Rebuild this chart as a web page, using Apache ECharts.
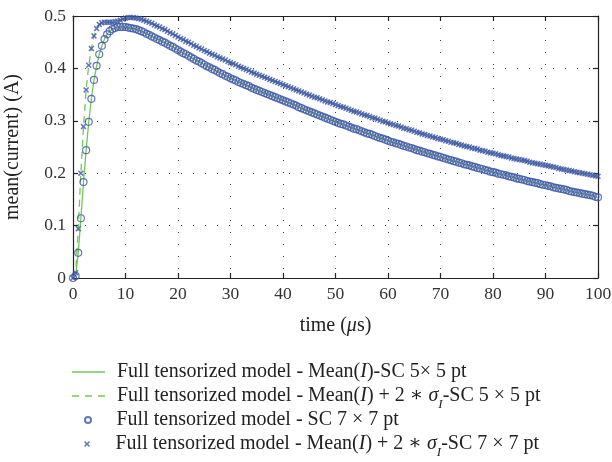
<!DOCTYPE html>
<html><head><meta charset="utf-8">
<script src="https://cdn.jsdelivr.net/npm/echarts@6/dist/echarts.min.js"></script>
<style>html,body{margin:0;padding:0;background:#fff}#c{width:612px;height:462px}</style>
</head><body><div id="c"></div>
<script>
// time in microseconds
const time = [0,0.5,1,1.5,2,2.5,3,3.5,4,4.5,5,5.5,6,6.5,7,7.5,8,8.5,9,9.5,10,
10.5,11,11.5,12,12.5,13,13.5,14,14.5,15,15.5,16,16.5,17,17.5,18,18.5,19,19.5,20,
20.5,21,21.5,22,22.5,23,23.5,24,24.5,25,25.5,26,26.5,27,27.5,28,28.5,29,29.5,30,
30.5,31,31.5,32,32.5,33,33.5,34,34.5,35,35.5,36,36.5,37,37.5,38,38.5,39,39.5,40,
40.5,41,41.5,42,42.5,43,43.5,44,44.5,45,45.5,46,46.5,47,47.5,48,48.5,49,49.5,50,
50.5,51,51.5,52,52.5,53,53.5,54,54.5,55,55.5,56,56.5,57,57.5,58,58.5,59,59.5,60,
60.5,61,61.5,62,62.5,63,63.5,64,64.5,65,65.5,66,66.5,67,67.5,68,68.5,69,69.5,70,
70.5,71,71.5,72,72.5,73,73.5,74,74.5,75,75.5,76,76.5,77,77.5,78,78.5,79,79.5,80,
80.5,81,81.5,82,82.5,83,83.5,84,84.5,85,85.5,86,86.5,87,87.5,88,88.5,89,89.5,90,
90.5,91,91.5,92,92.5,93,93.5,94,94.5,95,95.5,96,96.5,97,97.5,98,98.5,99,99.5,100];

// Mean(I) (A)
const meanCurrent = [0.000,0.004,0.048,0.114,0.183,0.244,0.298,0.342,0.378,0.405,0.427,0.443,0.456,0.465,0.471,0.475,0.477,0.479,0.479,0.479,0.479,
0.478,0.477,0.476,0.475,0.473,0.471,0.469,0.466,0.464,0.461,0.459,0.456,0.454,0.451,0.449,0.446,0.443,0.441,0.438,0.435,
0.432,0.429,0.427,0.424,0.421,0.418,0.415,0.413,0.410,0.407,0.404,0.402,0.399,0.397,0.394,0.391,0.389,0.386,0.384,0.381,
0.379,0.377,0.374,0.372,0.370,0.368,0.366,0.363,0.361,0.359,0.357,0.355,0.353,0.351,0.349,0.347,0.345,0.343,0.341,0.339,
0.337,0.335,0.333,0.331,0.329,0.326,0.324,0.322,0.320,0.318,0.316,0.314,0.312,0.310,0.308,0.306,0.304,0.302,0.300,0.298,
0.296,0.294,0.293,0.291,0.289,0.287,0.285,0.284,0.282,0.280,0.278,0.276,0.275,0.273,0.271,0.269,0.267,0.266,0.264,0.262,
0.260,0.259,0.257,0.256,0.254,0.252,0.251,0.249,0.248,0.246,0.244,0.243,0.241,0.240,0.238,0.237,0.235,0.234,0.232,0.231,
0.229,0.228,0.226,0.225,0.223,0.222,0.220,0.219,0.217,0.216,0.215,0.213,0.212,0.210,0.209,0.208,0.206,0.205,0.203,0.202,
0.201,0.199,0.198,0.197,0.196,0.194,0.193,0.192,0.190,0.189,0.188,0.187,0.185,0.184,0.183,0.182,0.181,0.179,0.178,0.177,
0.176,0.175,0.173,0.172,0.171,0.170,0.169,0.168,0.166,0.165,0.164,0.163,0.162,0.161,0.160,0.159,0.158,0.157,0.155,0.154];

// Mean(I) + 2*sigma_I (A)
const upperCurrent = [0.000,0.010,0.094,0.200,0.289,0.359,0.406,0.438,0.462,0.476,0.484,0.487,0.488,0.488,0.488,0.488,0.489,0.490,0.492,0.494,0.496,
0.497,0.497,0.497,0.496,0.495,0.494,0.492,0.490,0.488,0.486,0.483,0.481,0.479,0.476,0.474,0.471,0.468,0.466,0.463,0.460,
0.457,0.455,0.452,0.450,0.447,0.444,0.442,0.439,0.437,0.434,0.432,0.429,0.427,0.425,0.422,0.420,0.418,0.416,0.413,0.411,
0.409,0.407,0.404,0.402,0.400,0.398,0.396,0.393,0.391,0.389,0.387,0.385,0.383,0.381,0.379,0.377,0.375,0.373,0.371,0.369,
0.367,0.365,0.363,0.361,0.359,0.357,0.355,0.353,0.351,0.349,0.347,0.345,0.344,0.342,0.340,0.338,0.336,0.335,0.333,0.331,
0.329,0.327,0.326,0.324,0.322,0.320,0.318,0.317,0.315,0.313,0.311,0.310,0.308,0.306,0.305,0.303,0.301,0.299,0.298,0.296,
0.294,0.293,0.291,0.290,0.288,0.286,0.285,0.283,0.282,0.280,0.278,0.277,0.275,0.274,0.272,0.271,0.269,0.268,0.266,0.265,
0.264,0.262,0.261,0.259,0.258,0.257,0.255,0.254,0.252,0.251,0.250,0.248,0.247,0.246,0.244,0.243,0.242,0.240,0.239,0.238,
0.237,0.235,0.234,0.233,0.232,0.231,0.229,0.228,0.227,0.226,0.225,0.224,0.223,0.221,0.220,0.219,0.218,0.217,0.216,0.215,
0.214,0.213,0.212,0.211,0.209,0.208,0.207,0.206,0.205,0.204,0.203,0.202,0.201,0.200,0.199,0.198,0.197,0.196,0.195,0.194];

const seriesNames = ['mean5', 'upper5', 'sc7', 'upper7'];
const legendTexts = [
  '{a|Full tensorized model - Mean(}{i|I}{t|)-SC 5× 5 pt}',
  '{a|Full tensorized model - Mean(}{i|I}{t|) + 2 ∗ }{i|σ}{s|I}{t|-SC 5 × 5 pt}',
  '{a|Full tensorized model - SC 7 × 7 pt}',
  '{a|Full tensorized model - Mean(}{i|I}{t|) + 2 ∗ }{i|σ}{s|I}{t|-SC 7 × 7 pt}'
];

const FONT = "'Liberation Serif','DejaVu Serif',serif";
const GREEN = '#74c65c';
const BLUE = '#3c56a6';
const CROSS = 'path://M0,0.18 L0.18,0 L0.5,0.32 L0.82,0 L1,0.18 L0.68,0.5 L1,0.82 L0.82,1 L0.5,0.68 L0.18,1 L0,0.82 L0.32,0.5 Z';
const SOLID_ICON = 'path://M0,0 L33,0 L33,1.3 L0,1.3 Z';
const DASH_ICON = 'path://M0,0 L7,0 L7,1.3 L0,1.3 Z M13,0 L20,0 L20,1.3 L13,1.3 Z M26,0 L33,0 L33,1.3 L26,1.3 Z';

const pairs = (ys) => time.map((t, i) => [t, ys[i]]);

const LFS = 20;
const rich = {
  a: {fontFamily: FONT, fontSize: LFS, color: '#222', padding: [0,0,0,7], lineHeight: 24},
  t: {fontFamily: FONT, fontSize: LFS, color: '#222', lineHeight: 24},
  i: {fontFamily: FONT, fontSize: LFS, color: '#222', fontStyle: 'italic', lineHeight: 24},
  s: {fontFamily: FONT, fontSize: 13, color: '#222', fontStyle: 'italic', verticalAlign: 'bottom', lineHeight: 13, padding: [0,0,-3,0]}
};

const rowTops = [362, 386, 410, 434];
const rowLeft = [72, 72, 84, 84];
const rowIcons = [SOLID_ICON, DASH_ICON, null, null];
const legends = seriesNames.map((n, k) => ({
  data: [rowIcons[k] ? {name: n, icon: rowIcons[k]} : n],
  orient: 'vertical',
  left: rowLeft[k],
  top: rowTops[k],
  padding: 0,
  itemWidth: 33,
  itemHeight: k >= 2 ? 6 : 14,
  selectedMode: false,
  formatter: () => legendTexts[k],
  textStyle: {rich: rich, fontFamily: FONT, fontSize: LFS, color: '#222'}
}));

const axisLineStyle = {color: '#222', width: 1.2};
const TFS = 17.5;
const option = {
  animation: false,
  backgroundColor: '#fff',
  grid: {left: 73, right: 14, top: 16, bottom: 184, containLabel: false, outerBoundsMode: 'none'},
  legend: legends,
  xAxis: [{
    type: 'value', min: 0, max: 100, interval: 10,
    name: 'time ({i|μ}s)', nameLocation: 'middle', nameGap: 38, nameMoveOverlap: false,
    nameTextStyle: {fontFamily: FONT, fontSize: 20, color: '#222', verticalAlign: 'top',
      rich: {i: {fontFamily: FONT, fontSize: 20, color: '#222', fontStyle: 'italic'}}},
    axisLine: {show: true, lineStyle: axisLineStyle},
    axisTick: {show: true, inside: true, length: 5, lineStyle: axisLineStyle},
    axisLabel: {fontFamily: FONT, fontSize: TFS, color: '#333', margin: 7},
    splitLine: {show: true, lineStyle: {color: '#444', width: 1, type: [1, 11]}}
  }, {
    type: 'value', min: 0, max: 100, interval: 10, position: 'top',
    axisLine: {show: true, onZero: false, lineStyle: axisLineStyle},
    axisTick: {show: true, inside: true, length: 5, lineStyle: axisLineStyle},
    axisLabel: {show: false}, splitLine: {show: false}
  }],
  yAxis: [{
    type: 'value', min: 0, max: 0.5, interval: 0.1,
    name: 'mean(current) (A)', nameLocation: 'middle', nameGap: 50, nameMoveOverlap: false,
    nameTextStyle: {fontFamily: FONT, fontSize: 20, color: '#222'},
    axisLine: {show: true, lineStyle: axisLineStyle},
    axisTick: {show: true, inside: true, length: 5, lineStyle: axisLineStyle},
    axisLabel: {fontFamily: FONT, fontSize: TFS, color: '#333', margin: 7},
    splitLine: {show: true, lineStyle: {color: '#444', width: 1, type: [1, 11]}}
  }, {
    type: 'value', min: 0, max: 0.5, interval: 0.1, position: 'right',
    axisLine: {show: true, onZero: false, lineStyle: axisLineStyle},
    axisTick: {show: true, inside: true, length: 5, lineStyle: axisLineStyle},
    axisLabel: {show: false}, splitLine: {show: false}
  }],
  series: [
    {name: 'mean5', type: 'line', data: pairs(meanCurrent), showSymbol: false, symbol: 'none',
      lineStyle: {color: GREEN, width: 1.3}, itemStyle: {color: GREEN}, z: 2},
    {name: 'upper5', type: 'line', data: pairs(upperCurrent), showSymbol: false, symbol: 'none',
      lineStyle: {color: GREEN, width: 1.3, type: [7, 5]}, itemStyle: {color: GREEN}, z: 2},
    {name: 'sc7', type: 'scatter', data: pairs(meanCurrent), symbol: 'circle', symbolSize: 7,
      itemStyle: {color: 'rgba(255,255,255,0)', borderColor: BLUE, borderWidth: 1.2}, z: 3},
    {name: 'upper7', type: 'scatter', data: pairs(upperCurrent), symbol: CROSS, symbolSize: 6,
      itemStyle: {color: BLUE}, z: 3}
  ]
};
const chart = echarts.init(document.getElementById('c'), null, {renderer: 'canvas'});
chart.setOption(option);
</script></body></html>
